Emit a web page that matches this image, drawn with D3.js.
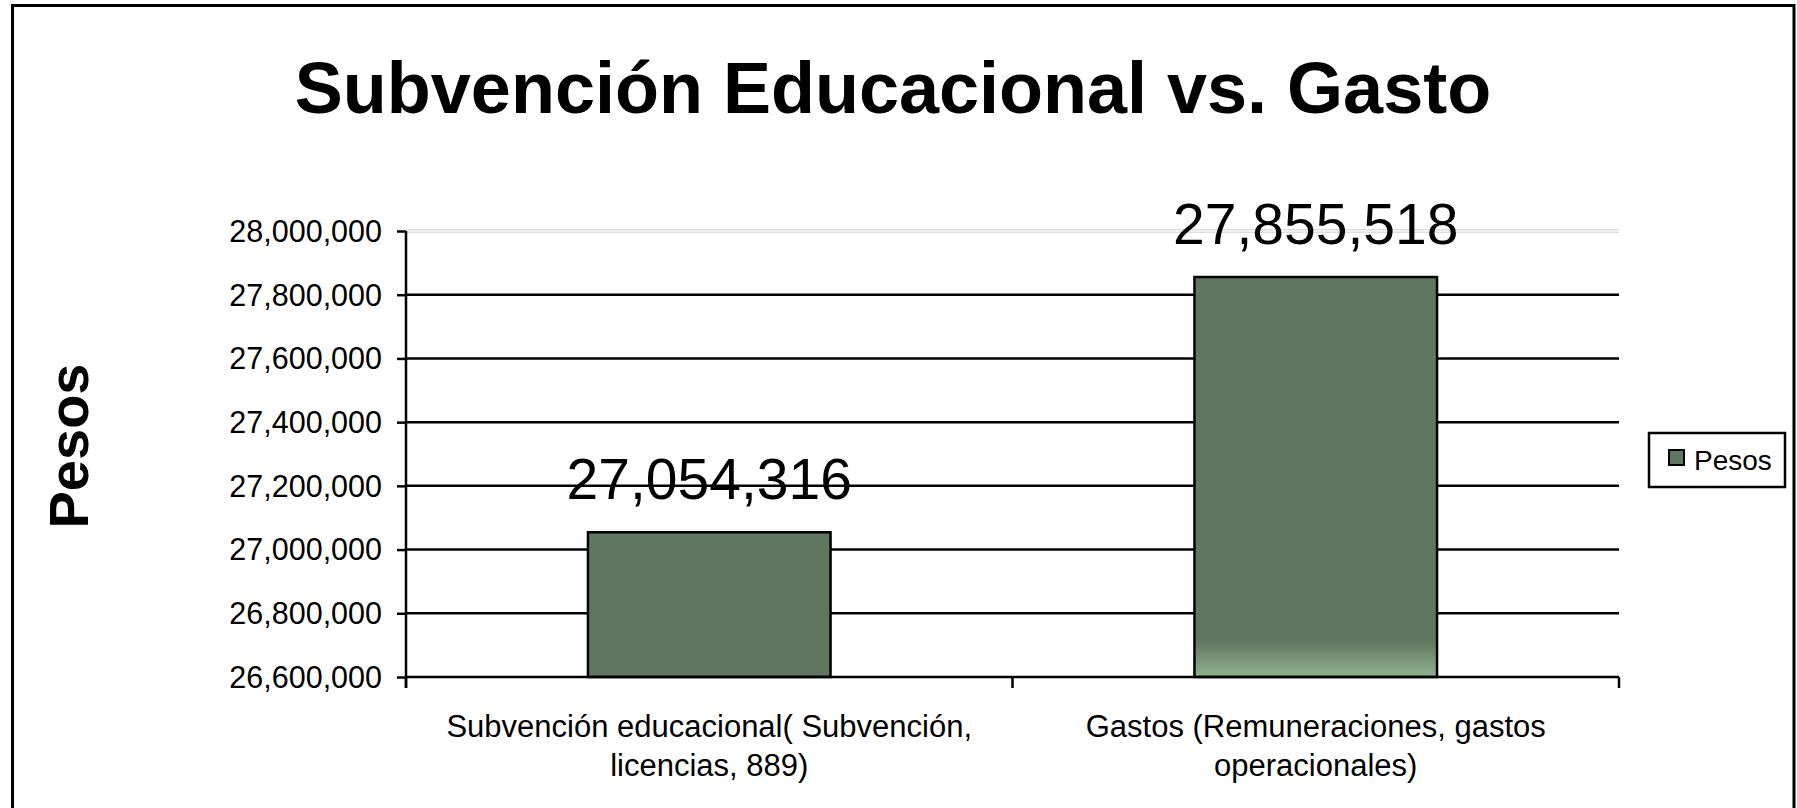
<!DOCTYPE html>
<html><head><meta charset="utf-8">
<script src="https://cdn.jsdelivr.net/npm/d3@7"></script>
<style>
html,body{margin:0;padding:0;background:#fff;}
svg{display:block;font-family:"Liberation Sans",Arial,sans-serif;}
</style></head>
<body>
<svg id="chart" width="1797" height="808"></svg>
<script>
const title = "Subvención Educacional vs. Gasto";
const yAxisTitle = "Pesos";
const seriesName = "Pesos";
const categories = [
  ["Subvención educacional( Subvención,", "licencias, 889)"],
  ["Gastos (Remuneraciones, gastos", "operacionales)"]
];
const values = [27054316, 27855518];
const yTicks = [26600000, 26800000, 27000000, 27200000, 27400000, 27600000, 27800000, 28000000];
const yDomain = [26600000, 28000000];

const svg = d3.select("#chart");
const W = 1797, H = 808;
const plot = {left: 406, right: 1619, top: 231, bottom: 677};
const barColor = "#5f775f";

// outer border
svg.append("rect").attr("x", 12.5).attr("y", 5.5).attr("width", 1794 - 12.5).attr("height", H + 20)
  .attr("fill", "#fff").attr("stroke", "#000").attr("stroke-width", 3);

const y = d3.scaleLinear().domain(yDomain).range([plot.bottom, plot.top]);
const x = d3.scaleBand().domain(d3.range(values.length)).range([plot.left, plot.right])
  .paddingInner(0.6).paddingOuter(0.3);

// gradient for second bar
const defs = svg.append("defs");
const grad = defs.append("linearGradient").attr("id", "g2").attr("x1", 0).attr("x2", 0).attr("y1", 0).attr("y2", 1);
grad.append("stop").attr("offset", "0.91").attr("stop-color", barColor);
grad.append("stop").attr("offset", "1").attr("stop-color", "#8fb38e");

// gridlines
const gl = svg.append("g");
gl.selectAll("line.grid").data(yTicks.filter(t => t > yDomain[0] && t < yDomain[1])).enter().append("line")
  .attr("x1", plot.left).attr("x2", plot.right)
  .attr("y1", d => y(d)).attr("y2", d => y(d))
  .attr("stroke", "#000").attr("stroke-width", 2.5);
// top plot border (light gray)
gl.append("line").attr("x1", plot.left).attr("x2", plot.right).attr("y1", y(yDomain[1]) - 1.2).attr("y2", y(yDomain[1]) - 1.2)
  .attr("stroke", "#cfcfcf").attr("stroke-width", 1);
gl.append("line").attr("x1", plot.left).attr("x2", plot.right).attr("y1", y(yDomain[1]) + 1.2).attr("y2", y(yDomain[1]) + 1.2)
  .attr("stroke", "#cfcfcf").attr("stroke-width", 1);

// bars
svg.append("g").selectAll("rect").data(values).enter().append("rect")
  .attr("x", (d, i) => x(i)).attr("width", x.bandwidth())
  .attr("y", d => y(d)).attr("height", d => y(yDomain[0]) - y(d))
  .attr("fill", (d, i) => i === 1 ? "url(#g2)" : barColor)
  .attr("stroke", "#000").attr("stroke-width", 2.5);

// y axis
const yAxis = d3.axisLeft(y).tickValues(yTicks).tickSize(9).tickPadding(15)
  .tickFormat(d3.format(","));
const ya = svg.append("g").attr("transform", `translate(${plot.left},0)`).call(yAxis);
ya.select(".domain").remove();
ya.selectAll(".tick line").attr("stroke", "#000").attr("stroke-width", 2.5);
ya.selectAll(".tick text").attr("font-size", 30.5).attr("fill", "#000")
  .attr("font-family", "'Liberation Sans',Arial,sans-serif").attr("dy", "0.34em");
ya.append("line").attr("x1", 0).attr("x2", 0).attr("y1", plot.top).attr("y2", plot.bottom + 11)
  .attr("stroke", "#000").attr("stroke-width", 2.5);

// x axis
svg.append("line").attr("x1", plot.left).attr("x2", plot.right).attr("y1", plot.bottom).attr("y2", plot.bottom)
  .attr("stroke", "#000").attr("stroke-width", 2.5);
const xTickPos = [plot.left].concat(d3.range(values.length).map(i => x(i) + x.bandwidth() / 2 + x.step() / 2));
svg.append("g").selectAll("line").data(xTickPos).enter().append("line")
  .attr("x1", d => d).attr("x2", d => d).attr("y1", plot.bottom).attr("y2", plot.bottom + 11)
  .attr("stroke", "#000").attr("stroke-width", 2.5);

// category labels
const cl = svg.append("g").selectAll("text").data(categories).enter().append("text")
  .attr("text-anchor", "middle").attr("font-size", 31).attr("fill", "#000")
  .attr("x", (d, i) => x(i) + x.bandwidth() / 2).attr("y", 737);
cl.selectAll("tspan").data(d => d).enter().append("tspan")
  .attr("x", function() { return d3.select(this.parentNode).attr("x"); })
  .attr("dy", (d, j) => j === 0 ? 0 : 38.5).text(d => d);

// data labels
svg.append("g").selectAll("text").data(values).enter().append("text")
  .attr("text-anchor", "middle").attr("font-size", 57).attr("fill", "#000")
  .attr("x", (d, i) => x(i) + x.bandwidth() / 2).attr("y", d => y(d) - 33)
  .text(d => d3.format(",")(d));

// title
svg.append("text").attr("x", 893).attr("y", 113).attr("text-anchor", "middle")
  .attr("font-size", 72).attr("font-weight", "bold").attr("fill", "#000").text(title);

// y axis title
svg.append("text").attr("transform", "translate(88,446) rotate(-90)").attr("text-anchor", "middle")
  .attr("font-size", 56).attr("font-weight", "bold").attr("fill", "#000").text(yAxisTitle);

// legend
const lg = svg.append("g");
lg.append("rect").attr("x", 1649).attr("y", 433).attr("width", 136).attr("height", 54)
  .attr("fill", "#fff").attr("stroke", "#000").attr("stroke-width", 2.5);
lg.append("rect").attr("x", 1669).attr("y", 450).attr("width", 15).attr("height", 15)
  .attr("fill", barColor).attr("stroke", "#000").attr("stroke-width", 2);
lg.append("text").attr("x", 1694).attr("y", 470).attr("font-size", 28).attr("fill", "#000").text(seriesName);
</script>
</body></html>
